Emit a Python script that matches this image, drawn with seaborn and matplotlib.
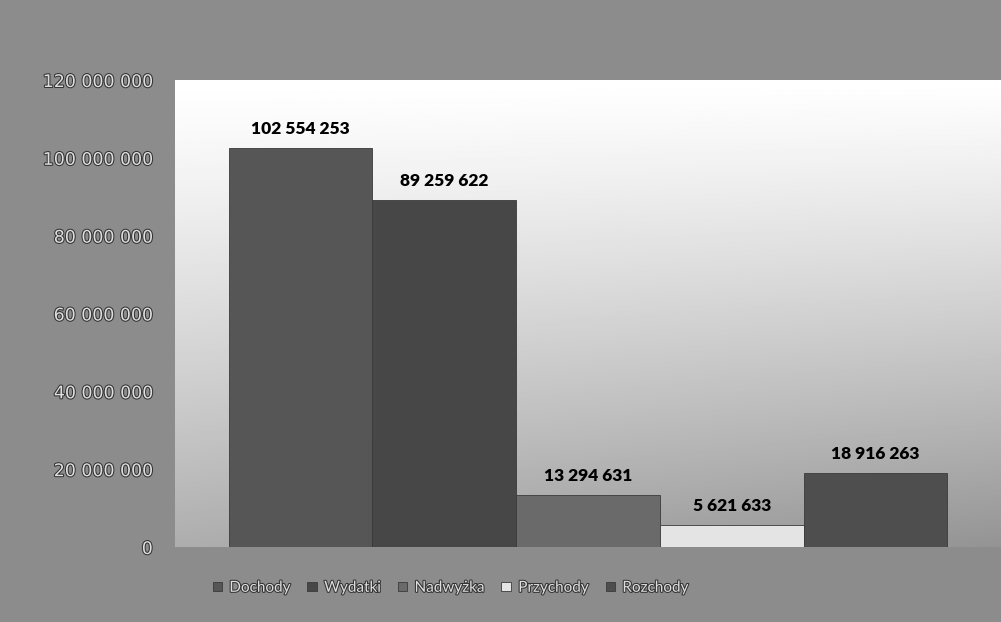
import numpy as np
import pandas as pd
import seaborn as sns
import matplotlib.pyplot as plt
import matplotlib.patheffects as pe

# dane
kategorie = ['Dochody', 'Wydatki', 'Nadwyżka', 'Przychody', 'Rozchody']
wartosci = [102554253, 89259622, 13294631, 5621633, 18916263]
kolory = ['#565656', '#474747', '#6a6a6a', '#e4e4e4', '#4e4e4e']
yticks = [0, 20000000, 40000000, 60000000, 80000000, 100000000, 120000000]

df = pd.DataFrame({'grupa': [''] * len(kategorie), 'seria': kategorie, 'wartosc': wartosci})

def fmt(v):
    return f'{int(v):,}'.replace(',', ' ')

sns.set_style('white')
plt.rcParams['font.family'] = ['Lato', 'DejaVu Sans']

fig = plt.figure(figsize=(10.01, 6.22), dpi=100, facecolor='#8c8c8c')
ax = fig.add_axes([0.1748, 0.1206, 0.8252, 0.7508])

# tło obszaru wykresu - gradient (jasne u góry, szare na dole)
gx, gy = np.meshgrid(np.linspace(0, 1, 300), np.linspace(0, 1, 300))
shade = np.clip(0.32 * (1 - gy) ** 1.2 + 0.10 * gx * (1 - gy), 0, 1)
g = 1 - shade
ax.imshow(g, cmap='gray', vmin=0, vmax=1.0, extent=(0, 1, 0, 1),
          transform=ax.transAxes, aspect='auto', origin='lower', zorder=0)

sns.barplot(data=df, x='grupa', y='wartosc', hue='seria', hue_order=kategorie,
            palette=kolory, width=0.87, dodge=True, saturation=1,
            edgecolor='#3a3a3a', linewidth=0.6, ax=ax, legend=True, zorder=2)

for cont in ax.containers:
    ax.bar_label(cont, labels=[fmt(b.get_height()) for b in cont], padding=8,
                 fontsize=12.5, fontweight='heavy', color='black')

ax.set_xlim(-0.5, 0.5)
ax.set_ylim(0, 120000000)
ax.set_yticks(yticks)
ax.set_yticklabels([fmt(t) for t in yticks], fontsize=12.5, color='#dedede',
                   family=['DejaVu Sans'])
for t in ax.get_yticklabels():
    t.set_path_effects([pe.withStroke(linewidth=1.5, foreground='#333333')])
ax.tick_params(axis='y', length=0, pad=16)
ax.set_xticks([])
ax.set_xlabel('')
ax.set_ylabel('')
for s in ax.spines.values():
    s.set_visible(False)

h, l = ax.get_legend_handles_labels()
ax.get_legend().remove()
leg = fig.legend(h, l, loc='center', bbox_to_anchor=(0.45, 0.055), ncol=5,
                 frameon=False, fontsize=11, handlelength=0.6, handleheight=0.6,
                 columnspacing=1.1, handletextpad=0.5)
for t in leg.get_texts():
    t.set_color('#dedede')
    t.set_path_effects([pe.withStroke(linewidth=1.5, foreground='#333333')])

fig.savefig('out.png', dpi=100, facecolor=fig.get_facecolor())
